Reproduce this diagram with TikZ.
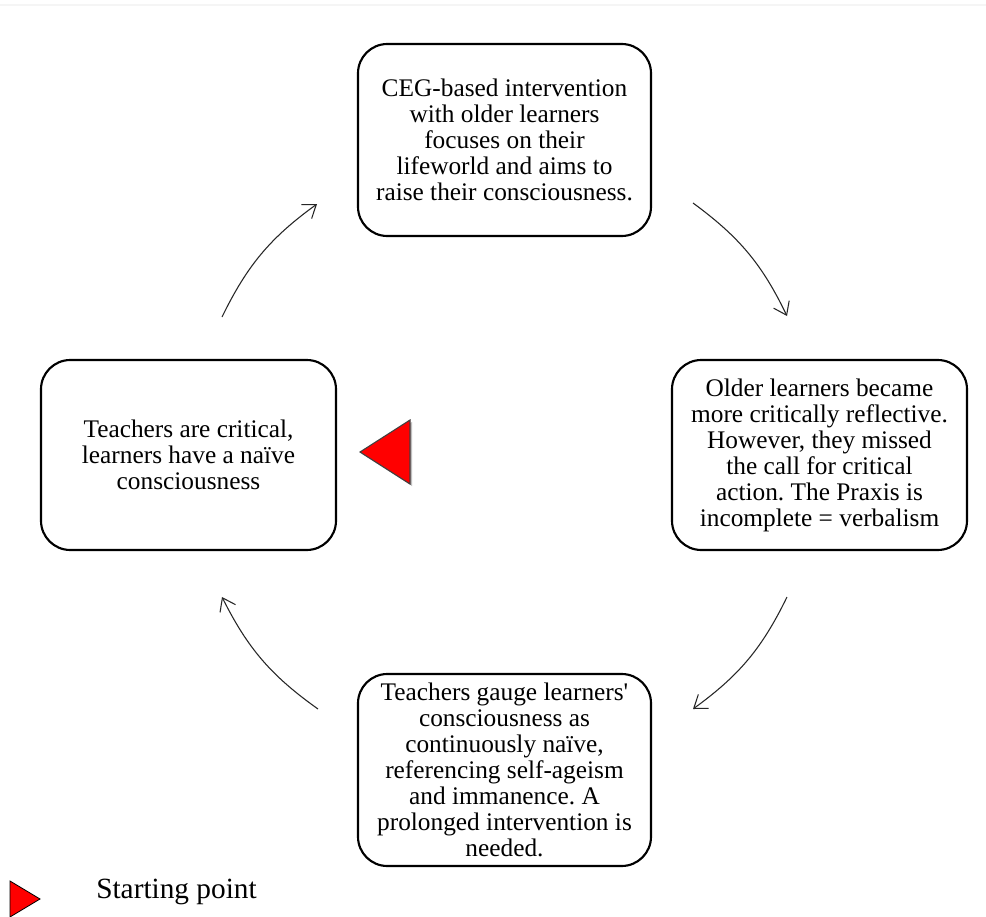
\documentclass[tikz,border=0pt]{standalone}
\usepackage{fontspec}
\setmainfont{Liberation Serif}
\usetikzlibrary{arrows.meta}
\begin{document}
\frenchspacing
\begin{tikzpicture}[x=0.75pt,y=-0.75pt,
  box/.style={draw=black,line width=1.6pt,rounded corners=22pt,align=center,
    font=\fontsize{19}{19.5}\selectfont,inner sep=0pt},
  flow/.style={line width=0.8pt,draw=black!85,-{Straight Barb[length=9pt,width=13pt,line width=0.8pt]}},
  marker/.style={fill=red,draw=black!75,line width=0.8pt}]
\useasboundingbox (0,0) rectangle (986,917);
\fill[white] (0,0) rectangle (986,917);
\draw[black!4,line width=1.5pt] (0,5) -- (986,5);

\node[box,minimum width=219.75pt,minimum height=144pt] (top) at (504.5,140)
  {CEG-based intervention\\with older learners\\focuses on their\\lifeworld and aims to\\raise their consciousness.};
\node[box,minimum width=221.25pt,minimum height=142.5pt] (right) at (819.5,455)
  {Older learners became\\more critically reflective.\\However, they missed\\the call for critical\\action. The Praxis is\\incomplete = verbalism};
\node[box,minimum width=221.25pt,minimum height=142.5pt] (left) at (188.5,455)
  {Teachers are critical,\\learners have a naïve\\consciousness};
\node[box,minimum width=219.75pt,minimum height=144pt] (bottom) at (504.5,770)
  {Teachers gauge learners\textquotesingle\\consciousness as\\continuously naïve,\\referencing self-ageism\\and immanence. A\\prolonged intervention is\\needed.};

\coordinate (a1s) at (222,317); \coordinate (a1e) at (317,204);
\coordinate (a2s) at (693,203); \coordinate (a2e) at (787,316);
\coordinate (a3s) at (787,597); \coordinate (a3e) at (693,709);
\coordinate (a4s) at (318,709); \coordinate (a4e) at (222,597);
\draw[flow] (a1s) to[bend left=14] (a1e);
\draw[flow] (a2s) to[bend left=14] (a2e);
\draw[flow] (a3s) to[bend left=14] (a3e);
\draw[flow] (a4s) to[bend left=14] (a4e);

\coordinate (t1) at (360,452); \coordinate (t2) at (410,420); \coordinate (t3) at (410,484);
\fill[black!25] ([shift={(2,2)}]t1) -- ([shift={(2,2)}]t2) -- ([shift={(2,2)}]t3) -- cycle;
\draw[marker] (t1) -- (t2) -- (t3) -- cycle;

\coordinate (l1) at (10,881); \coordinate (l2) at (40,899); \coordinate (l3) at (10,917);
\draw[fill=red,draw=black,line width=0.6pt] (l1) -- (l2) -- (l3) -- cycle;
\node[anchor=west,font=\fontsize{22}{24}\selectfont,inner sep=0pt] (legend) at (96,892) {Starting point};
\end{tikzpicture}
\end{document}
